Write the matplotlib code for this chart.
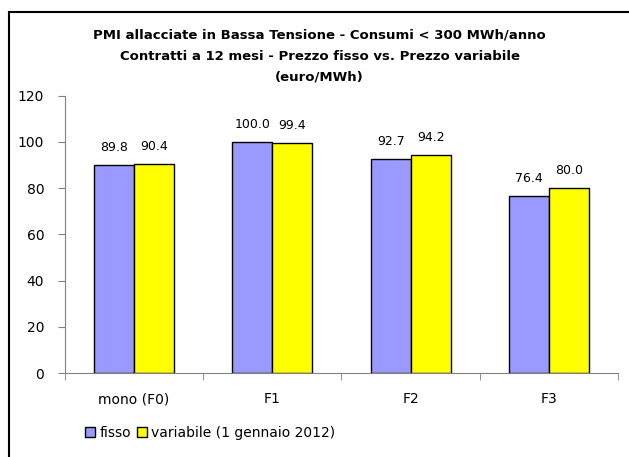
import matplotlib.pyplot as plt
from matplotlib.lines import Line2D
import numpy as np

categories = ['mono (F0)', 'F1', 'F2', 'F3']
fisso = [89.8, 100.0, 92.7, 76.4]
variabile = [90.4, 99.4, 94.2, 80.0]
series_names = ['fisso', 'variabile (1 gennaio 2012)']
title = ('PMI allacciate in Bassa Tensione - Consumi < 300 MWh/anno\n'
         'Contratti a 12 mesi - Prezzo fisso vs. Prezzo variabile\n'
         '(euro/MWh)')

plt.rcParams['font.family'] = ['DejaVu Sans']

fig = plt.figure(figsize=(6.29, 4.57), dpi=100)
ax = fig.add_axes([0.1033, 0.1838, 0.8792, 0.6068])

x = np.arange(len(categories))
w = 0.289
b1 = ax.bar(x - w / 2, fisso, w, color='#9999FF', edgecolor='black', linewidth=1, label=series_names[0])
b2 = ax.bar(x + w / 2, variabile, w, color='#FFFF00', edgecolor='black', linewidth=1, label=series_names[1])

for bars, vals in ((b1, fisso), (b2, variabile)):
    for rect, v in zip(bars, vals):
        ax.annotate(f'{v:.1f}', (rect.get_x() + rect.get_width() / 2, v),
                    xytext=(0, 8), textcoords='offset points',
                    ha='center', va='bottom', fontsize=9)

ax.set_xlim(-0.5, len(categories) - 0.5)
ax.set_ylim(0, 120)
ax.set_yticks(range(0, 121, 20))
ax.set_xticks(x)
ax.set_xticklabels(categories)
ax.set_xticks(np.arange(-0.5, len(categories), 1.0), minor=True)
ax.tick_params(axis='x', which='major', length=0, pad=14, labelsize=10)
ax.tick_params(axis='x', which='minor', length=5, color='#808080', direction='out')
ax.tick_params(axis='y', length=5, color='#808080', labelsize=10, pad=10)

for s in ('top', 'right'):
    ax.spines[s].set_visible(False)
for s in ('left', 'bottom'):
    ax.spines[s].set_color('#808080')

fig.text(0.508, 1 - 29 / 457, title, ha='center', va='top', fontsize=9.5,
         fontweight='bold', linespacing=1.78)

ax.legend(loc='center left', bbox_to_anchor=(0.036, -0.217), ncol=2, frameon=False,
          fontsize=10, handlelength=0.75, handleheight=0.75, handletextpad=0.3,
          columnspacing=0.4, borderaxespad=0, borderpad=0)

# outer chart frame (top and left edges visible)
fig.add_artist(Line2D([9 / 629, 1.0], [1 - 12 / 457, 1 - 12 / 457], color='black', lw=1.5))
fig.add_artist(Line2D([9 / 629, 9 / 629], [0, 1 - 12 / 457], color='black', lw=1.5))

fig.savefig('out.png', dpi=100)
